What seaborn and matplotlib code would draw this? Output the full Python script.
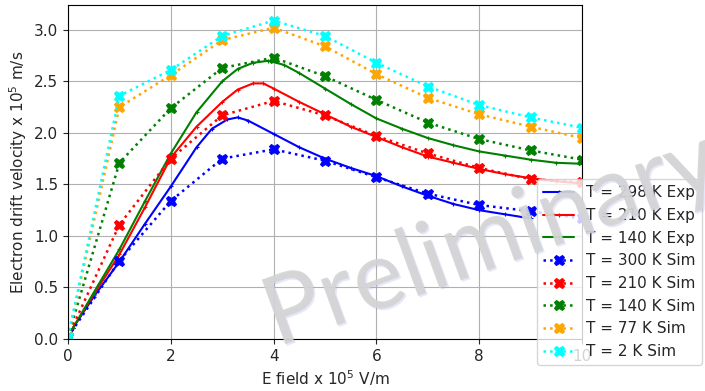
import matplotlib
matplotlib.use("Agg")
import matplotlib.pyplot as plt
import matplotlib.patheffects as pe
import seaborn as sns
import pandas as pd

# Experimental data (E field in 1e5 V/m, velocity in 1e5 m/s)
exp_x_300 = [0.1, 0.5, 1, 1.5, 2, 2.5, 2.8, 3.1, 3.3, 3.5, 4, 4.5, 5, 5.5, 6, 6.5, 7, 7.5, 8, 8.5, 9]
exp_v_300 = [0.11, 0.41, 0.75, 1.12, 1.48, 1.86, 2.04, 2.13, 2.15, 2.12, 1.99, 1.86, 1.75, 1.66, 1.58, 1.48, 1.39, 1.31, 1.25, 1.21, 1.17]

exp_x_210 = [0.1, 0.5, 1, 1.5, 2, 2.5, 3, 3.3, 3.6, 3.8, 4, 4.5, 5, 5.5, 6, 6.5, 7, 7.5, 8, 8.5, 9, 9.5, 10]
exp_v_210 = [0.11, 0.43, 0.82, 1.28, 1.76, 2.06, 2.30, 2.42, 2.48, 2.48, 2.43, 2.30, 2.18, 2.06, 1.96, 1.86, 1.77, 1.71, 1.65, 1.60, 1.56, 1.53, 1.51]

exp_x_140 = [0.1, 0.5, 1, 1.5, 2, 2.5, 3, 3.3, 3.6, 3.9, 4.2, 4.5, 5, 5.5, 6, 6.5, 7, 7.5, 8, 8.5, 9, 9.5, 10]
exp_v_140 = [0.11, 0.45, 0.87, 1.34, 1.80, 2.20, 2.50, 2.62, 2.68, 2.70, 2.66, 2.58, 2.43, 2.28, 2.14, 2.04, 1.95, 1.88, 1.82, 1.78, 1.74, 1.71, 1.70]

# Simulation data
sim_x = [0, 1, 2, 3, 4, 5, 6, 7, 8, 9, 10]
sim_v_300 = [0.02, 0.76, 1.34, 1.75, 1.84, 1.73, 1.57, 1.41, 1.30, 1.24, 1.17]
sim_v_210 = [0.02, 1.11, 1.75, 2.17, 2.31, 2.17, 1.97, 1.80, 1.66, 1.55, 1.52]
sim_v_140 = [0.02, 1.71, 2.24, 2.63, 2.73, 2.55, 2.32, 2.10, 1.94, 1.83, 1.74]
sim_v_77 = [0.02, 2.25, 2.56, 2.90, 3.02, 2.84, 2.57, 2.34, 2.18, 2.06, 1.95]
sim_v_2 = [0.02, 2.36, 2.61, 2.94, 3.09, 2.94, 2.68, 2.45, 2.27, 2.15, 2.05]

exp_series = [
    ("T = 298 K Exp", exp_x_300, exp_v_300, "blue"),
    ("T = 210 K Exp", exp_x_210, exp_v_210, "red"),
    ("T = 140 K Exp", exp_x_140, exp_v_140, "green"),
]
sim_series = [
    ("T = 300 K Sim", sim_v_300, "blue"),
    ("T = 210 K Sim", sim_v_210, "red"),
    ("T = 140 K Sim", sim_v_140, "green"),
    ("T = 77 K Sim", sim_v_77, "orange"),
    ("T = 2 K Sim", sim_v_2, "cyan"),
]

sns.set_theme(style="ticks")
plt.rcParams['font.family'] = ['DejaVu Sans']

fig = plt.figure(figsize=(7.05, 3.91), dpi=100)
ax = fig.add_axes([0.0965, 0.133, 0.729, 0.854])

for label, xs, vs, color in exp_series:
    df = pd.DataFrame({"x": xs, "v": vs})
    sns.lineplot(data=df, x="x", y="v", ax=ax, color=color, label=label,
                 linestyle="-", linewidth=1.5, marker="+", markersize=3,
                 markeredgewidth=0.8, markeredgecolor=color, sort=False, estimator=None)

for label, vs, color in sim_series:
    df = pd.DataFrame({"x": sim_x, "v": vs})
    sns.lineplot(data=df, x="x", y="v", ax=ax, color=color, label=label,
                 linestyle=":", linewidth=1.8, marker="X", markersize=7.5,
                 markeredgecolor=color, sort=False, estimator=None)

ax.set_xlim(0, 10)
ax.set_ylim(0, 3.24)
ax.set_xticks([0, 2, 4, 6, 8, 10])
ax.set_yticks([0.0, 0.5, 1.0, 1.5, 2.0, 2.5, 3.0])
ax.set_yticklabels(["0.0", "0.5", "1.0", "1.5", "2.0", "2.5", "3.0"])
ax.grid(True, color="#b0b0b0", linewidth=0.8)
ax.tick_params(labelsize=11, direction="out", length=3.5, width=0.8, colors="#262626")
for s in ax.spines.values():
    s.set_linewidth(0.8)
    s.set_color("black")
ax.set_xlabel("E field x 10$^5$ V/m", fontsize=11, labelpad=3)
ax.set_ylabel("Electron drift velocity x 10$^5$ m/s", fontsize=11, labelpad=4)

leg = ax.legend(loc="upper left", bbox_to_anchor=(0.913, 0.478), borderaxespad=0,
                fontsize=11, frameon=True, framealpha=0.8, edgecolor="#cccccc",
                fancybox=True)

fig.text(0.393, 0.112, "Preliminary", fontsize=69, family=["Lato", "DejaVu Sans"],
         color=(0.83, 0.83, 0.84), alpha=0.92, rotation=20, rotation_mode="anchor",
         ha="left", va="baseline", zorder=20,
         path_effects=[pe.withSimplePatchShadow(offset=(1.2, -1.2),
                                                shadow_rgbFace=(0.6, 0.65, 0.9),
                                                alpha=0.25)])

fig.savefig("out.png", dpi=100)
